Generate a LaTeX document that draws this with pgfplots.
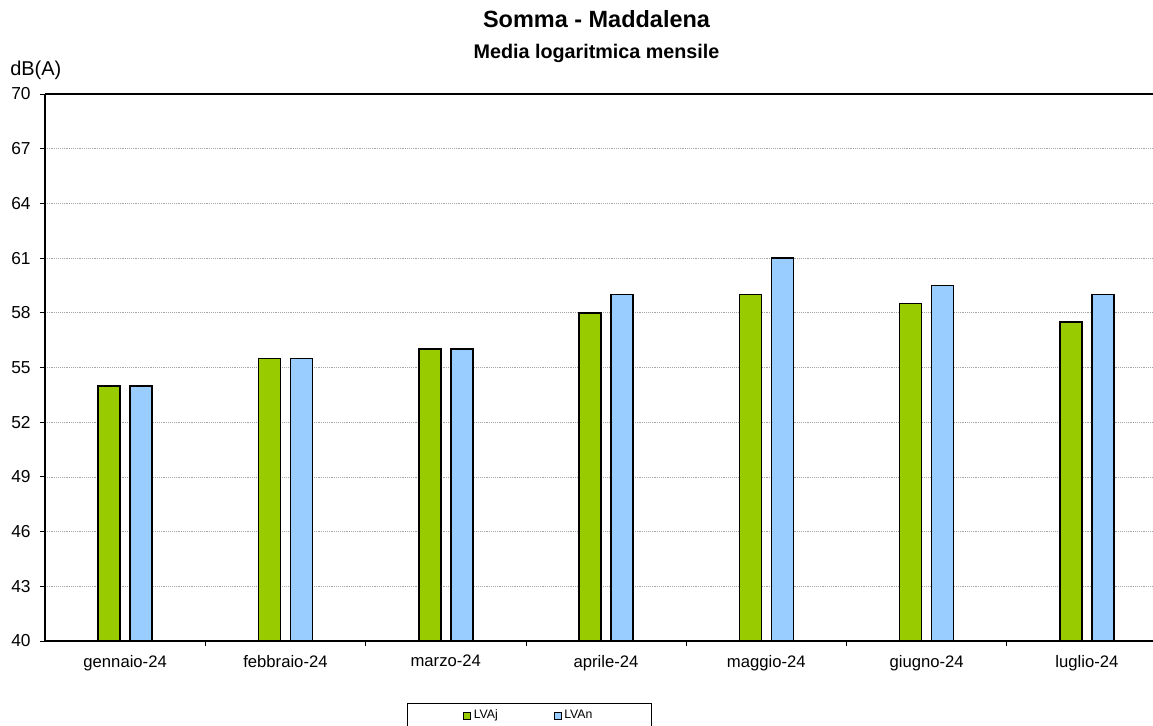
\documentclass[border=0pt]{standalone}
\usepackage{pgfplots}
\pgfplotsset{compat=1.18}
\usepackage{fontspec}
\setmainfont{Liberation Sans}
\definecolor{cgreen}{HTML}{99CC00}
\definecolor{cblue}{HTML}{99CCFF}
\begin{document}
\begin{tikzpicture}
\useasboundingbox (0,0) rectangle (864.75pt,543.75pt);
\clip (0,0) rectangle (864.75pt,543.75pt);
\begin{axis}[
 at={(33.75pt,63pt)}, anchor=south west,
 scale only axis, width=831pt, height=410.25pt,
 xmin=-0.5, xmax=6.412, ymin=40, ymax=70,
 axis x line=box, axis y line=left,
 axis line style={-, line width=1.1pt},
 x axis line style={-}, y axis line style={-},
 ybar=7.5pt, bar width=16.5pt,
 xtick={0.5,1.5,2.5,3.5,4.5,5.5},
 xticklabels={},
 extra x ticks={0,1,2,3,4,5,6},
 extra x tick labels={gennaio-24,febbraio-24,marzo-24,aprile-24,maggio-24,giugno-24,luglio-24},
 extra x tick style={major tick length=0pt, xticklabel style={yshift=-7pt}},
 ytick={40,43,...,70},
 tick align=outside, xtick pos=left, ytick pos=left,
 major tick length=3.75pt,
 ymajorgrids, major grid style={gray!70, densely dotted, line width=0.5pt},
 tick style={black, line width=0.6pt},
 ticklabel style={font=\fontsize{12.5}{14}\selectfont},
 yticklabel style={xshift=-3.5pt, font=\fontsize{13}{15}\selectfont},
 /pgf/number format/assume math mode=true,
 legend columns=2,
 legend style={at={(0.3267,-0.1133)}, anchor=north west, draw=black, line width=0.6pt,
   font=\fontsize{9.2}{10}\selectfont,
   /tikz/every even column/.append style={column sep=40pt},
   inner xsep=42pt, inner ysep=3pt},
 legend image code/.code={\draw[#1, line width=0.6pt] (0pt,-2.6pt) rectangle (5.2pt,2.6pt);},
]
\addplot[fill=cgreen, draw=black, line width=1.2pt] coordinates {(0,54) (1,55.5) (2,56) (3,58) (4,59) (5,58.5) (6,57.5)};
\addlegendentry{LVAj}
\addplot[fill=cblue, draw=black, line width=1.2pt] coordinates {(0,54) (1,55.5) (2,56) (3,59) (4,61) (5,59.5) (6,59)};
\addlegendentry{LVAn}
\end{axis}
\node[anchor=base, font=\bfseries\fontsize{17.6}{20}\selectfont] at (447.4pt,522.75pt) {Somma - Maddalena};
\node[anchor=base, font=\bfseries\fontsize{14.8}{17}\selectfont] at (447.4pt,499.5pt) {Media logaritmica mensile};
\node[anchor=base west, inner sep=0pt, font=\fontsize{15}{17}\selectfont] at (7.5pt,486.75pt) {dB(A)};
\end{tikzpicture}
\end{document}
